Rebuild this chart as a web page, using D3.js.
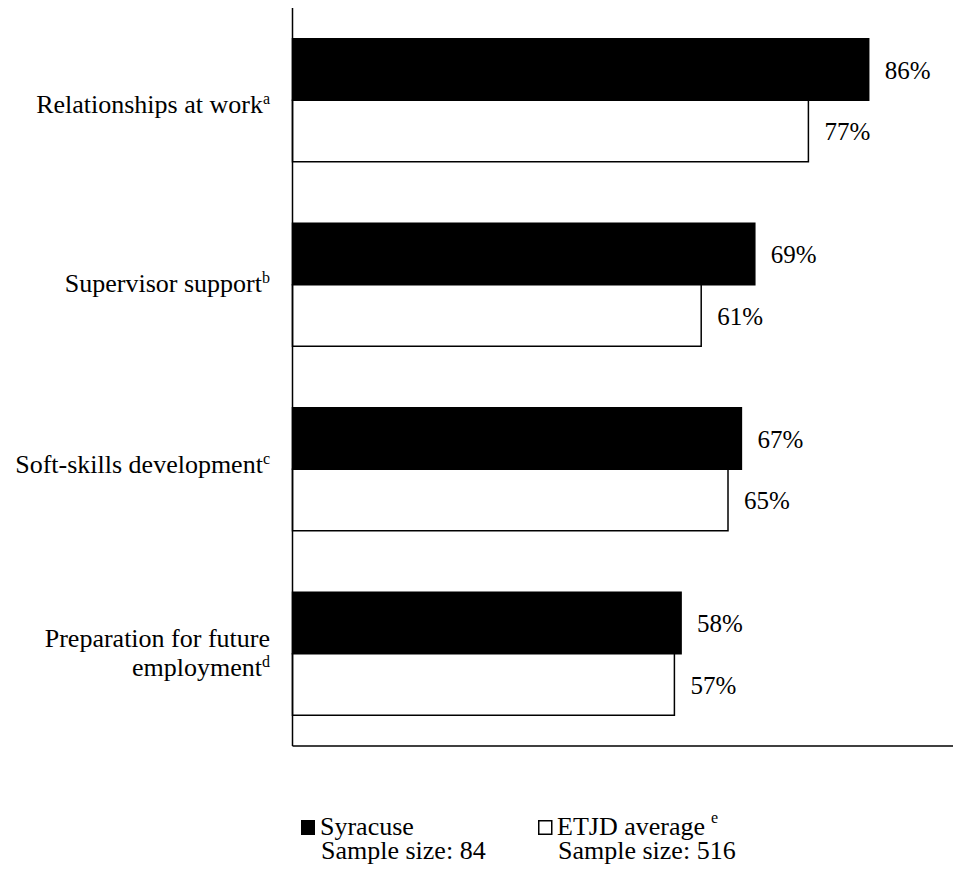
<!DOCTYPE html>
<html>
<head>
<meta charset="utf-8">
<script src="https://cdn.jsdelivr.net/npm/d3@7"></script>
</head>
<body style="margin:0;background:#fff">
<svg id="chart" width="953" height="873" style="display:block;font-family:'Liberation Serif',Tinos,'Times New Roman',serif"></svg>
<script>
// ---- data ----
const categories = ["Relationships at work", "Supervisor support", "Soft-skills development", "Preparation for future employment"];
const categoryLines = [["Relationships at work"], ["Supervisor support"], ["Soft-skills development"], ["Preparation for future", "employment"]];
const footnotes = ["a", "b", "c", "d"];
const seriesNames = ["Syracuse", "ETJD average"];
const syracuse = [86, 69, 67, 58];
const etjd = [77, 61, 65, 57];
const sampleSizes = [84, 516];
const legendFootnotes = ["", "e"];

// ---- layout ----
const FONT = "'Liberation Serif', Tinos, 'Times New Roman', serif";
const svg = d3.select("#chart");
const W = 953, H = 873;
const plotLeft = 292.5, plotTop = 8, plotBottom = 746;

const x = d3.scaleLinear().domain([0, 100]).range([plotLeft, plotLeft + 670]);
const y = d3.scaleBand().domain(categories).range([plotTop, plotBottom]).paddingInner(1/3).paddingOuter(1/6);
const ySub = d3.scaleBand().domain(seriesNames).range([0, y.bandwidth()]);

const fills = { "Syracuse": "#000", "ETJD average": "#fff" };
const rows = categories.map((c, i) => ({ cat: c, vals: [
  { s: "Syracuse", v: syracuse[i] }, { s: "ETJD average", v: etjd[i] }
]}));

const g = svg.append("g");
const groups = g.selectAll("g.cat").data(rows).join("g")
  .attr("transform", d => `translate(0,${y(d.cat)})`);

groups.selectAll("rect").data(d => d.vals).join("rect")
  .attr("x", x(0))
  .attr("y", d => ySub(d.s))
  .attr("width", d => x(d.v) - x(0))
  .attr("height", ySub.bandwidth())
  .attr("fill", d => fills[d.s])
  .attr("stroke", "#000")
  .attr("stroke-width", 1.5);

groups.selectAll("text.val").data(d => d.vals).join("text")
  .attr("class", "val")
  .attr("x", d => x(d.v) + 16)
  .attr("y", d => ySub(d.s) + ySub.bandwidth() / 2 + 9)
  .style("font-family", FONT)
  .attr("font-size", 25)
  .attr("fill", "#000")
  .text(d => d.v + "%");

// axes lines
svg.append("line").attr("x1", plotLeft).attr("x2", plotLeft).attr("y1", plotTop).attr("y2", plotBottom)
  .attr("stroke", "#000").attr("stroke-width", 1.5);
svg.append("line").attr("x1", plotLeft).attr("x2", W).attr("y1", plotBottom).attr("y2", plotBottom)
  .attr("stroke", "#000").attr("stroke-width", 1.5);

// category labels
const labelX = 270;
const labelShift = [5, -1, -4, 0];
categories.forEach((c, i) => {
  const lines = categoryLines[i];
  const cy = y(c) + y.bandwidth() / 2;
  const lh = 29;
  const baseY = cy + 8 + labelShift[i] - (lines.length - 1) * lh / 2;
  lines.forEach((ln, j) => {
    const t = svg.append("text")
      .attr("x", labelX)
      .attr("y", baseY + j * lh)
      .attr("text-anchor", "end")
      .style("font-family", FONT)
      .attr("font-size", 26)
      .attr("fill", "#000");
    t.append("tspan").text(ln);
    if (j === lines.length - 1) {
      t.append("tspan").attr("font-size", 16).attr("dy", -9).text(footnotes[i]);
    }
  });
});

// legend
const legX = [301, 538];
const legY = 835;
seriesNames.forEach((s, i) => {
  svg.append("rect")
    .attr("x", legX[i] + (i === 0 ? 0 : 0.75))
    .attr("y", legY - 15 + (i === 0 ? 0 : 0.75))
    .attr("width", i === 0 ? 14 : 13)
    .attr("height", i === 0 ? 15 : 13.5)
    .attr("fill", fills[s])
    .attr("stroke", "#000")
    .attr("stroke-width", i === 0 ? 0 : 1.5);
  const t = svg.append("text")
    .attr("x", legX[i] + 19)
    .attr("y", legY)
    .style("font-family", FONT)
    .attr("font-size", 26)
    .attr("fill", "#000");
  t.append("tspan").text(s);
  if (legendFootnotes[i]) {
    t.append("tspan").attr("font-size", 16).attr("dx", 6).attr("dy", -12).text(legendFootnotes[i]);
  }
  svg.append("text")
    .attr("x", legX[i] + 20)
    .attr("y", legY + 24)
    .style("font-family", FONT)
    .attr("font-size", 26)
    .attr("fill", "#000")
    .text("Sample size: " + sampleSizes[i]);
});
</script>
</body>
</html>
